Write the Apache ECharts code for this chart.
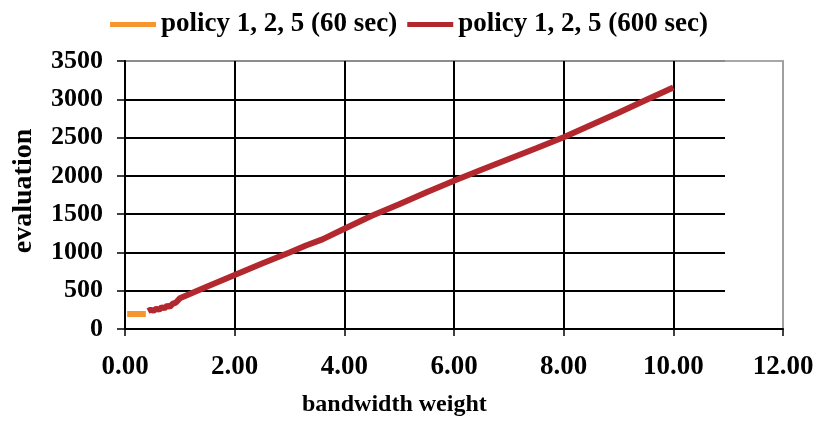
<!DOCTYPE html>
<html>
<head>
<meta charset="utf-8">
<script src="https://cdn.jsdelivr.net/npm/echarts@6/dist/echarts.min.js"></script>
<style>html,body{margin:0;padding:0;background:#fff;}#c{width:818px;height:423px;}</style>
</head>
<body>
<div id="c"></div>
<script>
const seriesNames = ['policy 1, 2, 5 (60 sec)', 'policy 1, 2, 5 (600 sec)'];
const x60 = [0.04, 0.12, 0.2, 0.28, 0.38];
const y60 = [195, 195, 195, 195, 195];
const x600 = [0.42,0.47,0.52,0.57,0.62,0.67,0.72,0.77,0.82,0.87,0.92,1.0,1.5,2,2.5,3,3.3,3.6,4,4.5,5,5.5,6,6.5,7,7.5,8,8.5,9,9.5,10];
const y600 = [232,252,238,265,252,285,270,305,290,330,340,400,555,705,855,1000,1090,1170,1310,1480,1630,1785,1935,2080,2220,2360,2505,2665,2825,2990,3155];
const xTicks = [0,2,4,6,8,10,12];
const yTicks = [0,500,1000,1500,2000,2500,3000,3500];

const FONT = '"Liberation Serif","Times New Roman",serif';
const chart = echarts.init(document.getElementById('c'));
chart.setOption({
  animation: false,
  backgroundColor: '#fff',
  legend: {
    top: 6, left: 'center',
    itemWidth: 46, itemHeight: 5, itemGap: 10,
    icon: 'rect',
    textStyle: {fontFamily: FONT, fontWeight: 'bold', fontSize: 27, color: '#000'},
    data: seriesNames
  },
  grid: [
    {left: 125, right: 35, top: 61, bottom: 94, show: true, borderColor: '#a8a8a8', borderWidth: 2},
    {left: 125, right: 93, top: 61, bottom: 94}
  ],
  xAxis: [
    {type: 'value', gridIndex: 0, min: xTicks[0], max: xTicks[xTicks.length-1], interval: 2,
     axisLine: {lineStyle: {color: '#000', width: 2}},
     axisTick: {inside: false, length: 7, lineStyle: {color: '#000', width: 1.5}},
     axisLabel: {margin: 25, fontFamily: FONT, fontWeight: 'bold', fontSize: 27, color: '#000',
                 formatter: v => v.toFixed(2)},
     splitLine: {show: true, lineStyle: {color: ['#000','#000','#000','#000','#000','#000','#a0a0a0'], width: 2}}
    },
    {type: 'value', gridIndex: 1, min: 0, max: 11, show: false}
  ],
  yAxis: [
    {type: 'value', gridIndex: 0, min: yTicks[0], max: yTicks[yTicks.length-1], interval: 500,
     axisLine: {show: true, lineStyle: {color: '#000', width: 2}},
     axisTick: {show: true, inside: false, length: 8, lineStyle: {color: '#000', width: 1.5}},
     axisLabel: {margin: 22, fontFamily: FONT, fontWeight: 'bold', fontSize: 26, color: '#000',
                 formatter: v => String(v), padding: [4, 0, 0, 0]},
     splitLine: {show: false}
    },
    {type: 'value', gridIndex: 1, min: yTicks[0], max: yTicks[yTicks.length-1], interval: 500,
     axisLine: {show: false}, axisTick: {show: false}, axisLabel: {show: false},
     splitLine: {show: true, lineStyle: {color: ['#000','#000','#000','#000','#000','#000','#000','#8c8c8c'], width: 2}}
    }
  ],
  graphic: [
    {type: 'text', left: 302, top: 393, style: {text: 'bandwidth weight', font: 'bold 24px ' + FONT, fill: '#000'}},
    {type: 'text', x: 24, y: 191, rotation: Math.PI/2, style: {text: 'evaluation', font: 'bold 28px ' + FONT, fill: '#000', align: 'center', verticalAlign: 'middle'}, originX: 0, originY: 0}
  ],
  series: [
    {name: seriesNames[0], type: 'line', xAxisIndex: 0, yAxisIndex: 0, showSymbol: false, z: 5,
     color: '#f7962f', lineStyle: {width: 6, color: '#f7962f'},
     data: x60.map((x, i) => [x, y60[i]])},
    {name: seriesNames[1], type: 'line', xAxisIndex: 0, yAxisIndex: 0, showSymbol: false, z: 5,
     color: '#b3282f', lineStyle: {width: 6, color: '#b3282f'},
     data: x600.map((x, i) => [x, y600[i]])}
  ]
});
</script>
</body>
</html>
